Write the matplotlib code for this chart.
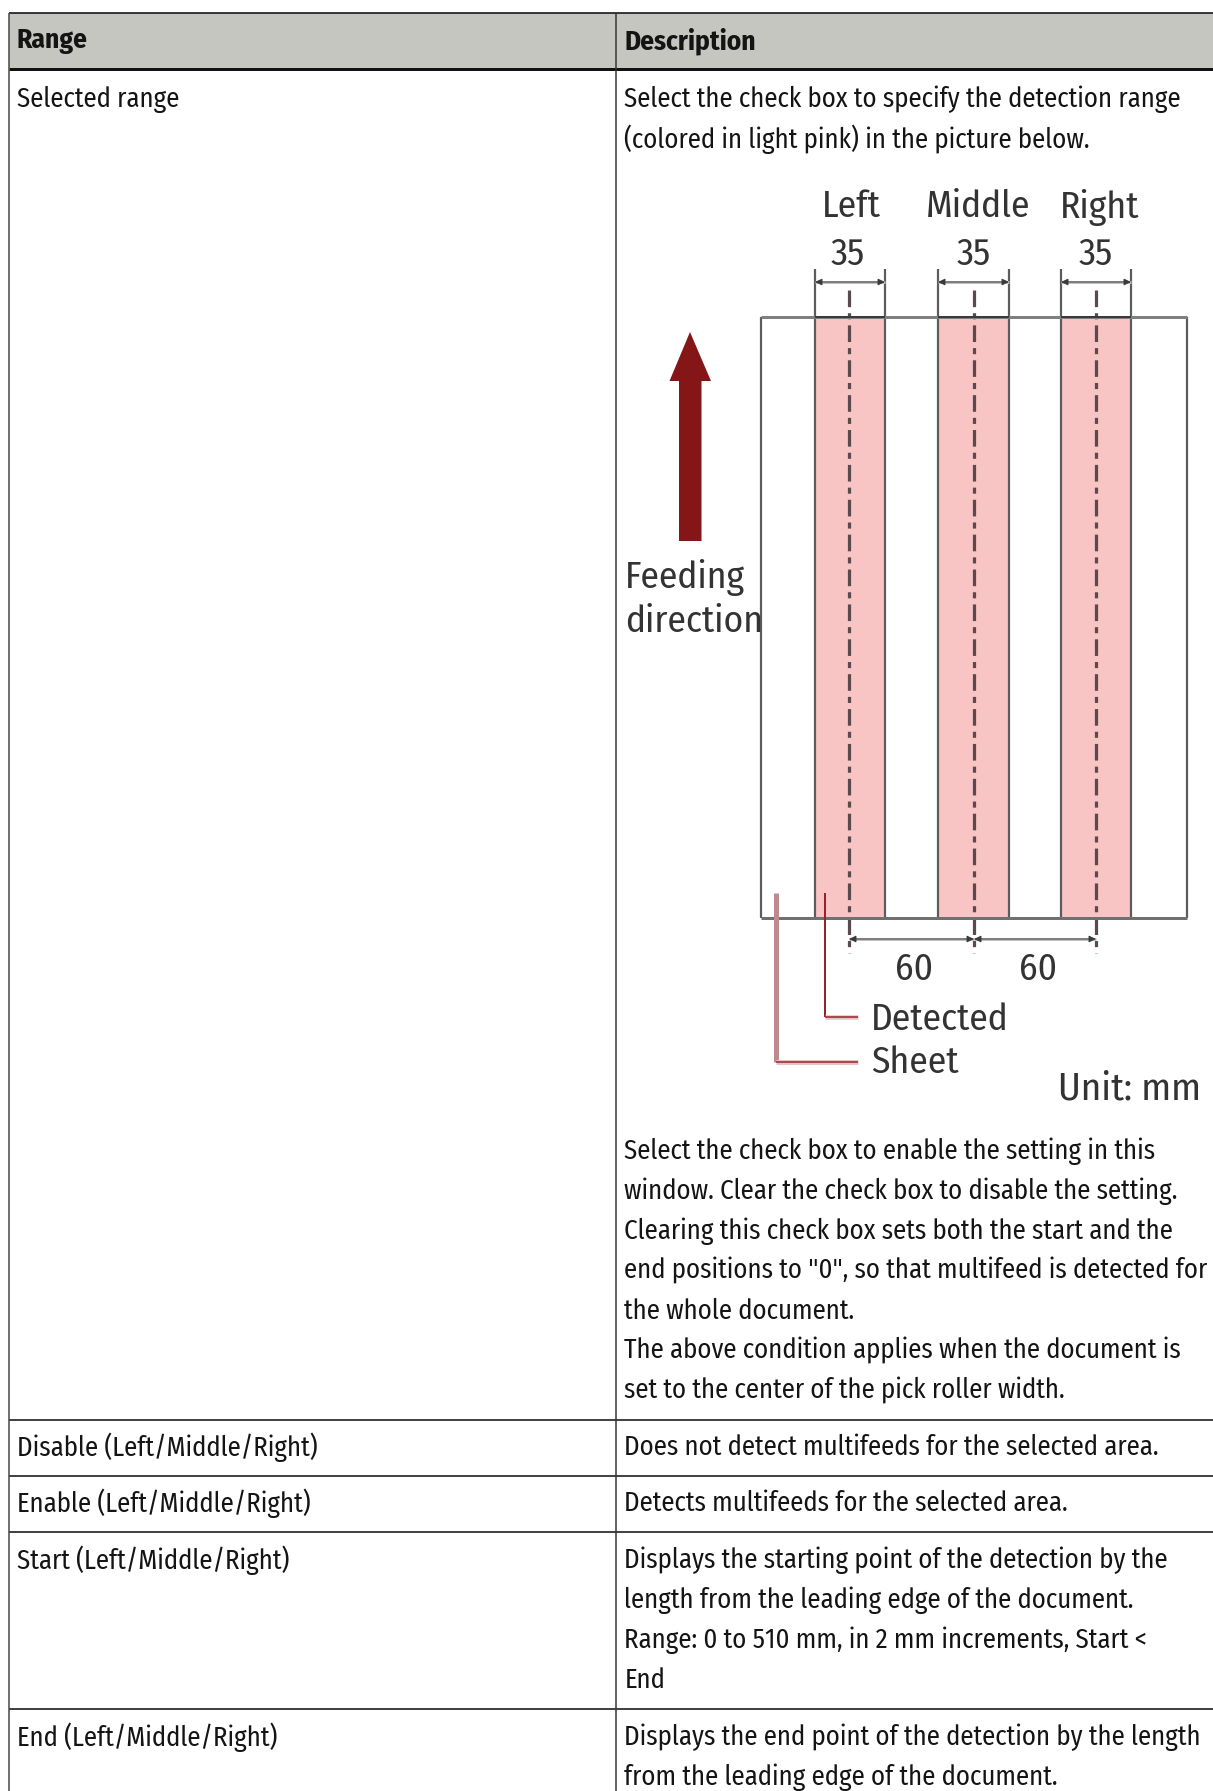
import matplotlib
matplotlib.use('Agg')
import matplotlib.pyplot as plt
from matplotlib.patches import Rectangle, Polygon

FONT = ['Fira Sans Condensed', 'Liberation Sans Narrow', 'Noto Sans', 'DejaVu Sans']
plt.rcParams['font.family'] = FONT

HEADERS = ['Range', 'Description']
RANGE_LABELS = ['Selected range', 'Disable (Left/Middle/Right)', 'Enable (Left/Middle/Right)',
                'Start (Left/Middle/Right)', 'End (Left/Middle/Right)']
DESC_TOP = ['Select the check box to specify the detection range',
            '(colored in light pink) in the picture below.']
DESC_SELECTED = ['Select the check box to enable the setting in this',
                 'window. Clear the check box to disable the setting.',
                 'Clearing this check box sets both the start and the',
                 'end positions to "0", so that multifeed is detected for',
                 'the whole document.',
                 'The above condition applies when the document is',
                 'set to the center of the pick roller width.']
DESC_DISABLE = ['Does not detect multifeeds for the selected area.']
DESC_ENABLE = ['Detects multifeeds for the selected area.']
DESC_START = ['Displays the starting point of the detection by the',
              'length from the leading edge of the document.',
              'Range: 0 to 510 mm, in 2 mm increments, Start <',
              'End']
DESC_END = ['Displays the end point of the detection by the length',
            'from the leading edge of the document.']
ZONE_NAMES = ['Left', 'Middle', 'Right']
ZONE_WIDTHS = ['35', '35', '35']
ZONE_GAPS = ['60', '60']
CALLOUTS = ['Detected', 'Sheet']
UNIT = 'Unit: mm'
FEED = ['Feeding', 'direction']

W, H = 1213, 1791
fig = plt.figure(figsize=(W / 100, H / 100), dpi=100)
ax = fig.add_axes([0, 0, 1, 1])
ax.set_xlim(0, W)
ax.set_ylim(H, 0)
ax.axis('off')


def px(v):
    return v * 0.72


def line(xs, ys, c='#333333', w=1.5, z=3, **kw):
    ax.plot(xs, ys, color=c, lw=px(w), solid_capstyle='butt', zorder=z, **kw)


def txt(x, y, s, size=19.3, c='#141414', ha='left', **kw):
    ax.text(x, y, s, fontsize=size, color=c, ha=ha, va='center_baseline', **kw)


def dim(a, b, y, z=4):
    line([a, b], [y, y], c='#c0c0c0', w=3, z=z)
    ax.annotate('', xy=(a, y), xytext=(b, y),
                arrowprops=dict(arrowstyle='<|-|>,head_length=0.42,head_width=0.2', color='#3a3a3a', lw=0.7,
                                shrinkA=0, shrinkB=0), zorder=z + 1)


# table frame
COL_L, COL_M = 9, 616
HEAD_T, HEAD_B = 13, 69
ROW_LINES = [1420, 1476, 1532, 1709]
ax.add_patch(Rectangle((COL_L, HEAD_T), W - COL_L, HEAD_B - HEAD_T, fc='#c5c6c0', ec='none', zorder=1))
line([COL_L, W], [HEAD_T, HEAD_T], c='#111111', w=1.6)
line([COL_L, W], [HEAD_B, HEAD_B], c='#111111', w=3)
for y in ROW_LINES:
    line([COL_L, W], [y, y], c='#444444', w=2)
line([COL_L, COL_L], [HEAD_T, H], c='#444444', w=1.5)
line([COL_M, COL_M], [HEAD_T, H], c='#333333', w=1.5)

TX_L, TX_R = 17, 624.5
txt(TX_L, 38, HEADERS[0], weight='bold', size=19.7)
txt(TX_R, 38, HEADERS[1], weight='bold', size=19.7)
for label, y in zip(RANGE_LABELS, [96, 1444, 1500, 1557, 1734]):
    txt(TX_L, y, label)
for lines, y0 in [(DESC_TOP, 96), (DESC_SELECTED, 1148), (DESC_DISABLE, 1444), (DESC_ENABLE, 1500),
                  (DESC_START, 1557), (DESC_END, 1734)]:
    for i, s in enumerate(lines):
        txt(TX_R, y0 + i * 40, s)

# diagram
SHEET_L, SHEET_R, SHEET_T, SHEET_B = 761, 1187, 317, 918
BANDS = [(815, 885), (938, 1009), (1061, 1131)]
CENTERS = [849, 974, 1096]
EDGE = '#5c5c5c'
for (a, b), c, in zip(BANDS, CENTERS):
    ax.add_patch(Rectangle((a, SHEET_T), b - a, SHEET_B - SHEET_T, fc='#f8c4c4', ec='none', zorder=2))
    line([a, a], [269, SHEET_B], c=EDGE, w=2.2)
    line([b, b], [269, SHEET_B], c=EDGE, w=2.2)
    line([c, c], [290, 953], c='#5a4a4e', w=3.2, ls=(0, (5.2, 1.9, 1.9, 1.9)), dash_capstyle='butt')
    dim(a, b, 282)
line([SHEET_L, SHEET_L], [SHEET_T, SHEET_B], c=EDGE, w=2.2)
line([SHEET_R, SHEET_R], [SHEET_T, SHEET_B], c=EDGE, w=2.2)
line([SHEET_L, SHEET_R], [SHEET_T, SHEET_T], c='#808080', w=3)
line([SHEET_L, SHEET_R], [SHEET_B, SHEET_B], c='#707070', w=3)
for a, b in BANDS:
    line([a, b], [SHEET_T, SHEET_T], c='#3a3a3a', w=2, z=4)

DIM_Y = 939
for a, b in zip(CENTERS[:-1], CENTERS[1:]):
    dim(a, b, DIM_Y)

DGREY = '#333333'
DSIZE = 27
for name, x in zip(ZONE_NAMES, [851, 978, 1100]):
    txt(x, 203, name, size=DSIZE, c=DGREY, ha='center')
for val, x in zip(ZONE_WIDTHS, [848, 974, 1096]):
    txt(x, 251, val, size=DSIZE, c=DGREY, ha='center')
for val, x in zip(ZONE_GAPS, [914, 1038]):
    txt(x, 966, val, size=DSIZE, c=DGREY, ha='center')
txt(625, 573, FEED[0], size=DSIZE, c=DGREY)
txt(625, 618, FEED[1], size=DSIZE, c=DGREY)
txt(871, 1016, CALLOUTS[0], size=DSIZE, c=DGREY)
txt(871, 1059, CALLOUTS[1], size=DSIZE, c=DGREY)
txt(1058, 1085, UNIT, size=28, c=DGREY)

# feeding arrow
ax.add_patch(Polygon([(690, 332), (711, 381), (701.5, 381), (701.5, 541), (679, 541), (679, 381), (669.5, 381)],
                     closed=True, fc='#841617', ec='none', zorder=3))

# callout leaders
line([776, 776], [893, 1062], c='#bd8a8e', w=5, z=6)
line([776, 858], [1062, 1062], c='#e3c4c6', w=5, z=6)
line([776, 858], [1062, 1062], c='#a02a30', w=1.6, z=7)
line([825, 825], [893, 1017], c='#9a2128', w=2, z=6)
line([825, 858], [1017, 1017], c='#e3c4c6', w=4.5, z=6)
line([825, 858], [1017, 1017], c='#a02a30', w=1.6, z=7)

fig.savefig('out.png', dpi=100, facecolor='white')
